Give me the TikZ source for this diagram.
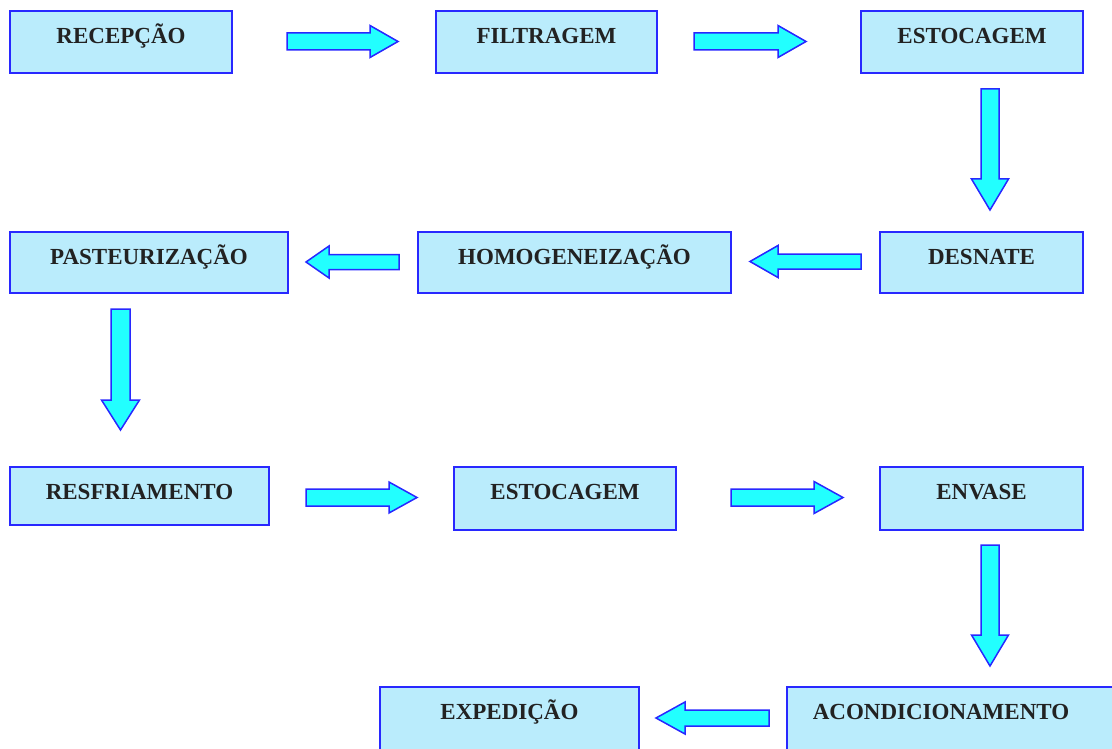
\documentclass[tikz,border=0pt]{standalone}
\usepackage{fontspec}
\setmainfont{Liberation Serif}
\definecolor{boxfill}{RGB}{186,236,252}
\definecolor{boxline}{RGB}{40,40,255}
\definecolor{arrfill}{RGB}{34,255,255}
\definecolor{txt}{RGB}{34,34,34}
\tikzset{
 stage/.style={draw=boxline, line width=2pt, fill=boxfill, rectangle, inner sep=0pt},
 lbl/.style={anchor=base, font=\bfseries\fontsize{23}{26}\selectfont, text=txt, inner sep=0pt},
 barrow/.style={draw=boxline, line width=1.5pt, fill=arrfill, line join=miter},
 pics/blockarrow/.style args={#1/#2/#3/#4}{code={%
   \draw[barrow] (0,-#2) -- (#1-#4,-#2) -- (#1-#4,-#3) -- (#1,0) -- (#1-#4,#3) -- (#1-#4,#2) -- (0,#2) -- cycle;}}
}
\begin{document}
\begin{tikzpicture}[x=1pt,y=-1pt]
\useasboundingbox (0,0) rectangle (1112,749);
\clip (0,0) rectangle (1112,749);
% boxes
\node[stage, minimum width=222pt, minimum height=62pt] (rec) at (121,42) {};
\node[stage, minimum width=221pt, minimum height=62pt] (fil) at (546.5,42) {};
\node[stage, minimum width=222pt, minimum height=62pt] (estA) at (972,42) {};
\node[stage, minimum width=203pt, minimum height=61pt] (des) at (981.5,262.5) {};
\node[stage, minimum width=313pt, minimum height=61pt] (hom) at (574.5,262.5) {};
\node[stage, minimum width=278pt, minimum height=61pt] (pas) at (149,262.5) {};
\node[stage, minimum width=259pt, minimum height=58pt] (res) at (139.5,496) {};
\node[stage, minimum width=222pt, minimum height=63pt] (estB) at (565,498.5) {};
\node[stage, minimum width=203pt, minimum height=63pt] (env) at (981.5,498.5) {};
\node[stage, minimum width=353pt, minimum height=83pt] (aco) at (963.5,728.5) {};
\node[stage, minimum width=259pt, minimum height=83pt] (exp) at (509.5,728.5) {};
% labels
\node[lbl] (trec) at ([yshift=-33.5pt]rec.north) {RECEPÇÃO};
\node[lbl] (tfil) at ([yshift=-33.5pt]fil.north) {FILTRAGEM};
\node[lbl] (testA) at ([yshift=-33.5pt]estA.north) {ESTOCAGEM};
\node[lbl] (tdes) at ([yshift=-33.5pt]des.north) {DESNATE};
\node[lbl] (thom) at ([yshift=-33.5pt]hom.north) {HOMOGENEIZAÇÃO};
\node[lbl] (tpas) at ([yshift=-33.5pt]pas.north) {PASTEURIZAÇÃO};
\node[lbl] (tres) at ([yshift=-33.5pt]res.north) {RESFRIAMENTO};
\node[lbl] (testB) at ([yshift=-33.5pt]estB.north) {ESTOCAGEM};
\node[lbl] (tenv) at ([yshift=-33.5pt]env.north) {ENVASE};
\node[lbl] (taco) at ([yshift=-33.5pt]aco.north -| 941,0) {ACONDICIONAMENTO};
\node[lbl] (texp) at ([yshift=-33.5pt]exp.north) {EXPEDIÇÃO};
% block arrows
\pic at (287,41.5) {blockarrow=111/8.5/16/28};
\pic at (694,41.5) {blockarrow=112/8.5/16/28};
\pic[rotate=-90] at (990,89) {blockarrow=121/9/18.5/31};
\pic[rotate=180] at (861,261.5) {blockarrow=111/7.5/16/28};
\pic[rotate=180] at (399,262) {blockarrow=93/7.5/16/23};
\pic[rotate=-90] at (120.5,309) {blockarrow=121/9.5/19/30};
\pic at (306,497.5) {blockarrow=111/8.5/15.5/28};
\pic at (731,497.5) {blockarrow=112/8.5/16/29};
\pic[rotate=-90] at (990,545) {blockarrow=121/9/18.5/31};
\pic[rotate=180] at (769,718) {blockarrow=113/8/16/29};
\end{tikzpicture}
\end{document}
